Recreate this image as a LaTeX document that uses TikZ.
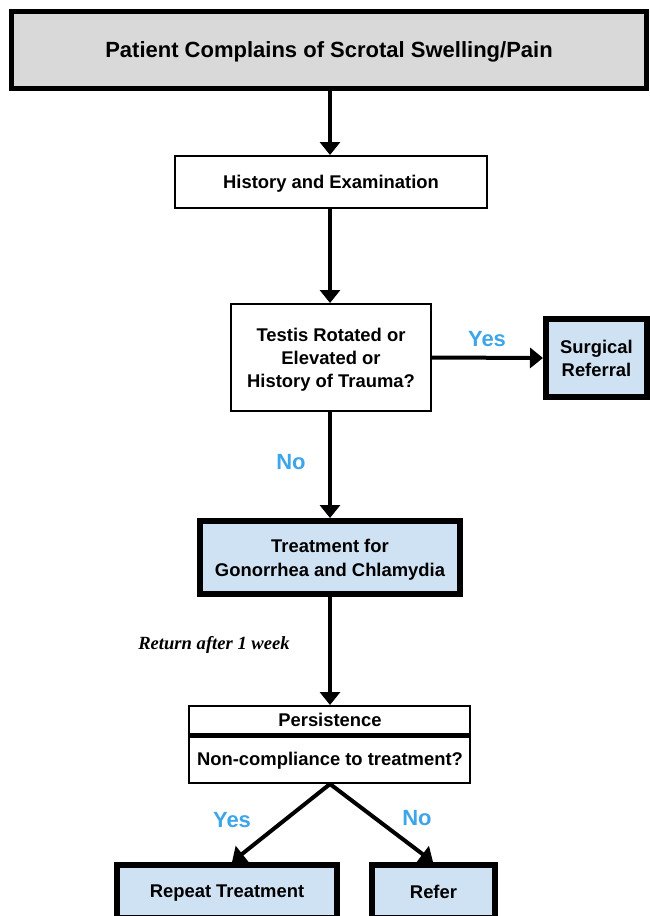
\documentclass[tikz,border=0pt]{standalone}
\usepackage{fontspec}
\setmainfont{Liberation Sans}
\newfontfamily\serifit{Liberation Serif}
\usetikzlibrary{arrows.meta}
\definecolor{boxblue}{RGB}{207,226,243}
\definecolor{boxgray}{RGB}{217,217,217}
\definecolor{lblblue}{RGB}{61,165,232}
\begin{document}
\begin{tikzpicture}[x=1pt,y=-1pt,
  base/.style={draw=black, rectangle, align=center, inner sep=0pt, text depth=0pt, font=\fontsize{18.4}{23}\selectfont\bfseries},
  thinbox/.style={base, line width=2pt, fill=white},
  thickbox/.style={base, line width=6pt, fill=boxblue},
  topbox/.style={base, line width=5pt, fill=boxgray, font=\fontsize{22}{26}\selectfont\bfseries},
  arr/.style={line width=4pt, -{Triangle[width=20pt,length=13pt]}},
  lbl/.style={text=lblblue, font=\fontsize{22}{24}\selectfont\bfseries, inner sep=0pt},
  plain/.style={inner sep=0pt, text depth=0pt, font=\fontsize{18.4}{22}\selectfont\bfseries}
]
\useasboundingbox (0,0) rectangle (650,916);
\begin{scope}
\clip (0,0) rectangle (650,916);
\node[topbox, minimum width=635pt, minimum height=77pt] (top) at (329,50) {Patient Complains of Scrotal Swelling/Pain};
\node[thinbox, minimum width=312pt, minimum height=52pt] (hist) at (331,182) {History and Examination};
\node[thinbox, minimum width=200pt, minimum height=107pt] (testis) at (331,357.5) {Testis Rotated or\\Elevated or\\History of Trauma?};
\node[thickbox, minimum width=101pt, minimum height=78pt] (surg) at (596.5,358) {Surgical\\Referral};
\node[thickbox, minimum width=260pt, minimum height=73pt, font=\fontsize{18.4}{24}\selectfont\bfseries] (treat) at (330,557.5) {Treatment for\\Gonorrhea and Chlamydia};
\node[thinbox, minimum width=281pt, minimum height=77pt] (pers) at (329.5,744.5) {};
\draw[line width=5pt] (pers.west |- 0,735) coordinate (sepl) -- (pers.east |- 0,735) coordinate (sepr);
\node[plain] (perst) at (330,720) {Persistence};
\node[plain] (persq) at (330,759) {Non-compliance to treatment?};
\node[thickbox, minimum width=220pt, minimum height=53pt] (rep) at (227,891.5) {Repeat Treatment};
\node[thickbox, minimum width=123pt, minimum height=53pt] (ref) at (433.5,891.5) {Refer};

\draw[arr] (top.south -| 330,0) -- (hist.north -| 330,0);
\draw[arr] (hist.south -| 330,0) -- (testis.north -| 330,0);
\draw[arr] (testis.east) -- (surg.west);
\draw[arr] (testis.south -| 330,0) -- (treat.north -| 330,0);
\draw[arr] (treat.south -| 330,0) -- (pers.north -| 330,0);
\draw[arr] (pers.south -| 330,0) -- (rep.north -| 232,0);
\draw[arr] (pers.south -| 330,0) -- (ref.north -| 433,0);

\node[lbl] (lyes1) at (487,339) {Yes};
\node[lbl] (lno1) at (291,462) {No};
\node[lbl] (lyes2) at (232,820) {Yes};
\node[lbl] (lno2) at (417,818) {No};
\node[inner sep=0pt, font=\serifit\itshape\bfseries\fontsize{18.6}{20}\selectfont] (ret) at (214,645) {Return after 1 week};
\end{scope}
\end{tikzpicture}
\end{document}
